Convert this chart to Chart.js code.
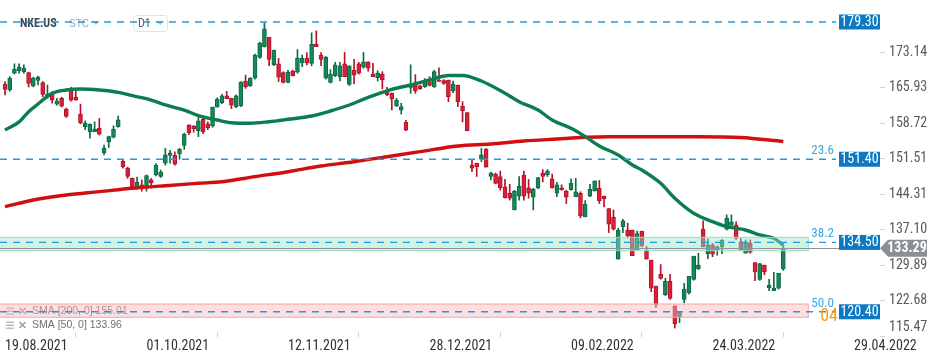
<!DOCTYPE html>
<html lang="en">
<head>
    <meta charset="UTF-8">
    <title>NKE.US D1</title>
    <script src="https://cdn.jsdelivr.net/npm/chart.js"></script>
    <style>
        body { margin: 0; background: #fff; }
    </style>
</head>
<body>
    <canvas id="myChart" width="950" height="359"></canvas>
    <script>
        const ctx = document.getElementById('myChart').getContext('2d');

        const NARROW = "'Liberation Sans Narrow', 'Arial Narrow', 'Roboto Condensed', 'Liberation Sans', sans-serif";
        const SANS = "'Liberation Sans', Arial, sans-serif";

        // Подписи оси X (каждые 30 баров)
        const tickDates = ['19.08.2021', '01.10.2021', '12.11.2021', '28.12.2021', '09.02.2022', '24.03.2022', '29.04.2022'];
        const yTicks = [115.47, 122.68, 129.89, 137.10, 144.31, 151.51, 158.72, 165.93, 173.14];

        // Дневные свечи NKE.US, 19.08.2021 - 13.04.2022
        const opens = [
            166.7, 165.5, 168.9, 169.4, 169.2, 169.0, 166.3, 167.4, 167.0, 164.0,
            164.8, 162.6, 163.8, 161.6, 165.5, 164.0, 160.6, 158.0, 157.0, 157.0,
            157.7, 152.7, 155.0, 155.9, 158.0, 151.0, 149.6, 147.5, 145.8, 146.2,
            145.8, 147.2, 148.2, 147.9, 150.6, 152.2, 152.2, 152.5, 154.2, 158.4,
            158.2, 157.2, 159.5, 158.6, 158.2, 162.0, 162.9, 164.3, 163.8, 162.1,
            162.3, 167.3, 166.3, 167.9, 172.1, 174.3, 176.2, 170.6, 170.8, 169.0,
            167.0, 169.3, 169.1, 171.0, 171.9, 170.9, 174.8, 172.6, 167.9, 167.0,
            168.4, 168.2, 170.8, 166.6, 169.5, 170.8, 170.1, 171.2, 168.7, 168.0,
            168.7, 165.1, 164.8, 162.3, 161.4, 158.9, 166.0, 166.8, 166.3, 166.1,
            167.2, 166.1, 167.5, 167.4, 167.5, 165.3, 166.5, 162.2, 160.9, 150.2,
            150.6, 151.4, 153.5, 147.9, 148.4, 147.9, 145.8, 144.5, 141.1, 143.9,
            148.2, 145.6, 143.7, 145.6, 148.6, 148.2, 147.4, 144.5, 145.6, 144.9,
            145.2, 143.8, 144.5, 139.7, 143.9, 145.0, 145.5, 143.9, 141.4, 139.6,
            131.1, 137.7, 137.0, 137.0, 133.0, 136.8, 132.8, 130.9, 125.6, 128.0,
            123.9, 126.6, 121.6, 119.4, 122.9, 124.3, 127.0, 129.1, 137.2, 132.2,
            134.0, 132.9, 133.6, 137.2, 138.0, 138.0, 134.6, 132.3, 134.4, 130.4,
            127.0, 129.9, 125.3, 124.7, 125.2, 129.1
        ];
        const highs = [
            167.2, 168.2, 170.8, 170.8, 170.6, 169.1, 168.1, 168.3, 167.2, 166.5,
            165.1, 163.8, 164.0, 161.8, 166.0, 165.5, 162.6, 159.2, 158.6, 159.0,
            159.7, 154.3, 156.1, 158.2, 160.2, 151.3, 149.8, 147.6, 147.8, 147.2,
            148.2, 147.5, 150.5, 149.2, 153.6, 153.2, 152.9, 153.6, 156.7, 158.4,
            158.2, 160.1, 160.1, 159.0, 162.0, 163.9, 164.6, 165.2, 163.8, 164.5,
            167.2, 168.5, 168.0, 172.8, 175.2, 179.1, 176.2, 173.6, 171.9, 169.2,
            169.5, 169.5, 173.7, 172.6, 173.1, 177.1, 177.5, 173.1, 172.3, 169.6,
            171.1, 171.1, 173.1, 170.4, 171.7, 171.1, 173.1, 171.2, 170.9, 169.4,
            169.2, 166.0, 164.9, 163.8, 162.8, 159.3, 170.6, 168.6, 166.5, 167.8,
            168.2, 169.5, 170.0, 167.6, 167.5, 167.3, 166.5, 163.1, 160.9, 151.4,
            150.6, 153.6, 153.5, 148.8, 148.6, 149.0, 147.3, 146.3, 145.1, 147.9,
            149.0, 147.3, 145.5, 147.7, 149.3, 149.3, 148.4, 146.7, 146.2, 145.1,
            147.4, 147.5, 144.8, 143.0, 146.3, 147.0, 147.1, 143.9, 141.4, 141.1,
            137.4, 139.2, 138.4, 137.0, 136.8, 136.8, 133.7, 130.9, 125.6, 130.0,
            127.2, 128.0, 121.6, 120.4, 126.2, 127.6, 131.7, 132.3, 138.9, 135.2,
            134.3, 133.8, 135.1, 140.1, 140.1, 138.7, 135.3, 135.0, 135.0, 130.4,
            130.2, 129.9, 127.0, 128.4, 128.2, 134.0
        ];
        const lows = [
            164.5, 165.2, 168.7, 168.9, 168.9, 166.1, 166.1, 166.5, 164.1, 163.8,
            162.8, 162.4, 162.0, 159.9, 163.2, 163.4, 158.6, 157.4, 155.7, 157.0,
            156.3, 152.3, 153.8, 155.7, 157.9, 149.6, 147.5, 145.3, 145.3, 144.9,
            144.9, 145.8, 148.0, 147.7, 150.2, 150.6, 150.2, 151.4, 153.4, 156.4,
            156.9, 156.0, 156.6, 157.4, 157.9, 162.0, 162.7, 163.7, 161.7, 161.9,
            162.1, 165.8, 166.2, 167.7, 171.9, 174.2, 170.4, 170.4, 167.2, 166.9,
            166.9, 168.3, 168.9, 170.2, 170.6, 170.4, 174.3, 170.4, 167.7, 166.9,
            168.2, 167.3, 168.2, 166.4, 166.7, 168.7, 169.9, 169.3, 168.2, 167.3,
            165.7, 164.3, 161.4, 162.1, 160.6, 157.2, 164.8, 164.8, 165.6, 166.0,
            166.3, 166.0, 167.2, 166.6, 163.1, 164.9, 162.1, 159.0, 157.2, 148.9,
            147.9, 150.9, 149.8, 147.2, 146.4, 145.1, 143.5, 143.1, 141.1, 143.1,
            143.1, 143.5, 141.1, 145.4, 146.8, 147.9, 145.5, 143.8, 145.1, 142.4,
            145.1, 143.8, 139.5, 139.7, 143.8, 144.9, 142.4, 141.7, 136.5, 137.0,
            131.1, 136.5, 135.4, 131.8, 133.0, 133.6, 131.1, 124.5, 121.3, 127.0,
            123.7, 122.9, 117.1, 118.2, 122.2, 124.0, 126.8, 129.0, 133.6, 131.2,
            131.6, 131.9, 132.2, 137.0, 137.8, 135.1, 132.9, 132.3, 132.3, 126.7,
            126.8, 127.9, 124.7, 124.7, 125.0, 128.8
        ];
        const closes = [
            165.6, 167.9, 169.7, 170.1, 169.9, 166.8, 167.9, 168.1, 164.6, 164.6,
            163.4, 163.3, 162.2, 160.1, 163.4, 163.4, 158.8, 158.7, 158.5, 157.5,
            156.5, 153.6, 156.0, 157.5, 159.4, 149.9, 147.9, 145.8, 146.7, 145.5,
            148.1, 146.6, 150.2, 148.8, 152.3, 152.7, 150.4, 153.4, 156.5, 156.8,
            157.6, 159.2, 157.0, 157.8, 162.0, 163.6, 164.3, 163.7, 162.4, 164.3,
            167.1, 166.1, 167.9, 172.6, 175.0, 177.9, 171.7, 173.6, 168.1, 167.0,
            169.1, 168.4, 171.9, 171.9, 171.0, 174.8, 174.3, 171.7, 172.1, 168.7,
            170.6, 170.4, 168.2, 170.4, 168.5, 168.9, 171.2, 169.9, 168.2, 168.9,
            167.6, 164.5, 163.6, 163.4, 162.1, 157.3, 166.7, 165.3, 165.7, 167.5,
            166.4, 169.2, 167.2, 166.8, 164.1, 166.7, 163.1, 161.3, 157.2, 149.6,
            149.9, 152.3, 149.8, 148.6, 146.5, 145.6, 143.6, 143.5, 144.9, 145.9,
            143.9, 144.5, 145.3, 147.7, 147.9, 149.0, 145.6, 146.2, 145.2, 143.7,
            146.5, 144.8, 139.9, 142.3, 145.3, 147.0, 143.0, 143.4, 138.2, 137.2,
            137.0, 138.9, 135.8, 131.8, 136.3, 133.8, 131.1, 125.2, 121.8, 127.2,
            126.6, 123.1, 118.0, 120.4, 125.0, 127.6, 131.7, 129.9, 133.6, 134.0,
            132.1, 133.6, 134.9, 139.4, 138.7, 135.3, 132.9, 134.3, 132.5, 128.5,
            130.2, 128.5, 125.8, 125.2, 128.2, 133.29
        ];

        // Скользящие средние (номер бара -> значение)
        const sma50Bars = [0, 3, 5, 7, 10, 13, 16, 20, 24, 27, 31, 34, 38, 41, 45, 48, 52, 56, 60, 65,
            69, 73, 77, 82, 86, 90, 94, 97, 101, 106, 109, 113, 116, 120, 123, 126, 130, 133, 135, 139,
            142, 146, 150, 153, 157, 160, 163, 165];
        const sma50Values = [157.35, 159.0, 161.07, 162.63, 164.81, 165.48, 165.68, 165.48, 165.01, 164.32,
            163.44, 162.43, 161.4, 160.25, 159.38, 158.83, 158.71, 159.03, 159.52, 160.19,
            161.21, 162.43, 163.99, 165.62, 166.49, 167.51, 168.42, 168.42, 167.3, 164.81,
            163.1, 161.41, 159.38, 157.69, 155.99, 154.1, 152.27, 150.23, 149.22, 146.51,
            143.47, 140.42, 138.71, 137.69, 137.02, 136.01, 135.33, 133.96];
        const sma200Bars = [0, 6, 13, 20, 27, 34, 41, 46, 53, 60, 67, 74, 81, 88, 96, 103, 110, 117, 123, 128,
            135, 147, 156, 165];
        const sma200Values = [141.76, 143.12, 144.14, 144.81, 145.5, 146.03, 146.51, 146.84, 147.86, 148.87,
            150.03, 150.9, 151.92, 152.94, 154.1, 154.5, 155.11, 155.52, 155.86, 155.99,
            155.99, 155.99, 155.82, 155.01];

        // Уровни Фибоначчи и зоны
        const levelValues = [179.30, 151.40, 134.50, 120.40];
        const levelFib = ['', '23.6', '38.2', '50.0'];
        const zoneLow = [132.82, 119.28];
        const zoneHigh = [135.54, 121.98];
        const lastPrice = 133.29;

        const UP = '#15875a', UP_DARK = '#0b6b44';
        const DOWN = '#dc2039', DOWN_DARK = '#b1142a';
        const isUp = i => closes[i] >= opens[i];

        function triangle(c, x, y, color) {
            c.fillStyle = color;
            c.beginPath();
            c.moveTo(x - 4, y - 2);
            c.lineTo(x + 4, y - 2);
            c.lineTo(x, y + 2);
            c.closePath();
            c.fill();
        }

        // Подписи, зоны, уровни и плашки цен
        const overlay = {
            id: 'overlay',
            afterDatasetsDraw(chart) {
                const c = chart.ctx;
                const a = chart.chartArea;
                const x = chart.scales.x;
                const y = chart.scales.y;
                c.save();

                // заголовок
                c.textBaseline = 'middle';
                c.textAlign = 'left';
                c.font = `bold 12px ${NARROW}`;
                c.fillStyle = '#3d4750';
                c.fillText('NKE.US', 20, 24);
                c.font = `10px ${SANS}`;
                c.fillStyle = '#93a6b5';
                c.fillText('STC', 69, 24.5);
                triangle(c, 96, 23, '#b5bcc2');
                c.strokeStyle = '#dfe3e6';
                c.lineWidth = 1;
                c.beginPath();
                c.roundRect(133.5, 15.5, 34, 16, 3);
                c.stroke();
                c.font = `12px ${NARROW}`;
                c.fillStyle = '#5a636b';
                c.fillText('D1', 138, 24);
                triangle(c, 160, 23, '#b5bcc2');

                // легенда индикаторов
                const legendRows = [['SMA [200, 0] 155.01', 311.5], ['SMA [50, 0] 133.96', 325.5]];
                legendRows.forEach(([txt, ly]) => {
                    c.fillStyle = '#b9bec3';
                    for (let k = 0; k < 3; k++) c.fillRect(6, ly - 4 + k * 3, 8, 1.5);
                    c.strokeStyle = '#9aa1a7';
                    c.lineWidth = 1.6;
                    c.beginPath();
                    c.moveTo(19.5, ly - 3.5); c.lineTo(25.5, ly + 2.5);
                    c.moveTo(25.5, ly - 3.5); c.lineTo(19.5, ly + 2.5);
                    c.stroke();
                    c.font = `10.5px ${SANS}`;
                    c.fillStyle = '#6b7177';
                    c.fillText(txt, 32, ly);
                });

                // зоны
                const zoneEnd = x.getPixelForValue(170.3);
                const zoneStyles = [
                    ['rgba(150, 228, 196, 0.45)', '#9adcc2'],
                    ['rgba(250, 185, 185, 0.45)', '#f3a7a7']
                ];
                zoneLow.forEach((lo, k) => {
                    const top = y.getPixelForValue(zoneHigh[k]);
                    const bot = y.getPixelForValue(lo);
                    c.fillStyle = zoneStyles[k][0];
                    c.fillRect(a.left, top, zoneEnd - a.left, bot - top);
                    c.strokeStyle = zoneStyles[k][1];
                    c.lineWidth = 1;
                    c.strokeRect(a.left - 1, top, zoneEnd - a.left + 1, bot - top);
                });

                // уровни
                const boxL = a.right - 41;
                c.strokeStyle = '#1f9ae2';
                c.lineWidth = 1.4;
                c.setLineDash([7, 6]);
                levelValues.forEach(v => {
                    const py = y.getPixelForValue(v);
                    c.beginPath();
                    c.moveTo(a.left, py);
                    c.lineTo(boxL - 3, py);
                    c.stroke();
                });
                c.setLineDash([]);

                // линия текущей цены
                const pp = y.getPixelForValue(lastPrice);
                c.strokeStyle = '#8e9499';
                c.lineWidth = 1;
                c.beginPath();
                c.moveTo(a.left, Math.round(pp) + 0.5);
                c.lineTo(a.right, Math.round(pp) + 0.5);
                c.stroke();

                // подписи фибо
                c.font = `13px ${NARROW}`;
                c.textAlign = 'right';
                c.textBaseline = 'alphabetic';
                c.fillStyle = '#3ba6e6';
                levelValues.forEach((v, k) => {
                    if (levelFib[k]) c.fillText(levelFib[k], boxL - 5, y.getPixelForValue(v) - 5);
                });
                c.font = `18px ${NARROW}`;
                c.fillStyle = '#f5a012';
                c.fillText('04', boxL - 1, y.getPixelForValue(120.40) + 9);

                // плашки уровней
                c.textAlign = 'center';
                c.textBaseline = 'middle';
                c.font = `14px ${NARROW}`;
                levelValues.forEach(v => {
                    const py = y.getPixelForValue(v);
                    c.fillStyle = '#0d79c2';
                    c.fillRect(boxL, py - 7.5, 41, 15);
                    c.fillStyle = '#ffffff';
                    c.fillText(v.toFixed(2), boxL + 20.5, py + 0.5);
                });

                // плашка текущей цены
                c.fillStyle = '#8a9095';
                c.beginPath();
                c.moveTo(a.right, pp);
                c.lineTo(a.right + 8, pp - 8.5);
                c.lineTo(a.right + 47, pp - 8.5);
                c.lineTo(a.right + 47, pp + 8.5);
                c.lineTo(a.right + 8, pp + 8.5);
                c.closePath();
                c.fill();
                c.fillStyle = '#ffffff';
                c.font = `bold 14px ${NARROW}`;
                c.fillText(lastPrice.toFixed(2), a.right + 27, pp + 0.5);

                c.restore();
            }
        };

        new Chart(ctx, {
            type: 'bar',
            data: {
                datasets: [
                    {
                        label: 'Тени',
                        data: opens.map((o, i) => ({ x: i, y: [lows[i], highs[i]] })),
                        backgroundColor: c => isUp(c.dataIndex) ? UP_DARK : DOWN_DARK,
                        barThickness: 1,
                        grouped: false,
                        order: 4
                    },
                    {
                        label: 'Тела',
                        data: opens.map((o, i) => ({ x: i, y: [o, closes[i]] })),
                        backgroundColor: c => isUp(c.dataIndex) ? UP : DOWN,
                        borderColor: c => isUp(c.dataIndex) ? UP_DARK : DOWN_DARK,
                        borderWidth: 1,
                        borderSkipped: false,
                        barThickness: 4,
                        minBarLength: 1,
                        grouped: false,
                        order: 3
                    },
                    {
                        type: 'line',
                        label: 'SMA 200',
                        data: sma200Bars.map((b, k) => ({ x: b, y: sma200Values[k] })),
                        borderColor: '#d20f10',
                        borderWidth: 3.4,
                        pointRadius: 0,
                        cubicInterpolationMode: 'monotone',
                        order: 2
                    },
                    {
                        type: 'line',
                        label: 'SMA 50',
                        data: sma50Bars.map((b, k) => ({ x: b, y: sma50Values[k] })),
                        borderColor: '#0b7d4e',
                        borderWidth: 3.4,
                        pointRadius: 0,
                        cubicInterpolationMode: 'monotone',
                        order: 1
                    }
                ]
            },
            options: {
                responsive: false,
                animation: false,
                devicePixelRatio: 1,
                layout: { padding: 0 },
                scales: {
                    x: {
                        type: 'linear',
                        min: -1.06,
                        max: 185.5,
                        offset: false,
                        afterBuildTicks: s => { s.ticks = tickDates.map((d, k) => ({ value: k * 30 })); },
                        afterFit: s => { s.height = 27; s.paddingLeft = 0; s.paddingRight = 0; },
                        ticks: {
                            autoSkip: false,
                            maxRotation: 0,
                            align: 'start',
                            padding: 1,
                            color: '#333',
                            font: { family: NARROW, size: 14 },
                            callback: v => tickDates[Math.round(v / 30)]
                        },
                        grid: { drawOnChartArea: false, tickLength: 5, color: '#cfd3d6' },
                        border: { display: false }
                    },
                    y: {
                        type: 'linear',
                        position: 'right',
                        min: 116.29,
                        max: 183.77,
                        afterBuildTicks: s => { s.ticks = yTicks.map(v => ({ value: v })); },
                        afterFit: s => { s.width = 70; s.paddingTop = 0; s.paddingBottom = 0; },
                        ticks: {
                            padding: 4,
                            color: '#555b60',
                            font: { family: NARROW, size: 14 },
                            callback: v => v === 115.47 ? ['115.47', ''] : v.toFixed(2)
                        },
                        grid: { drawOnChartArea: false, tickLength: 5, color: '#cfd3d6' },
                        border: { display: false }
                    }
                },
                plugins: {
                    legend: { display: false },
                    tooltip: { enabled: false }
                }
            },
            plugins: [overlay]
        });
    </script>
</body>
</html>
